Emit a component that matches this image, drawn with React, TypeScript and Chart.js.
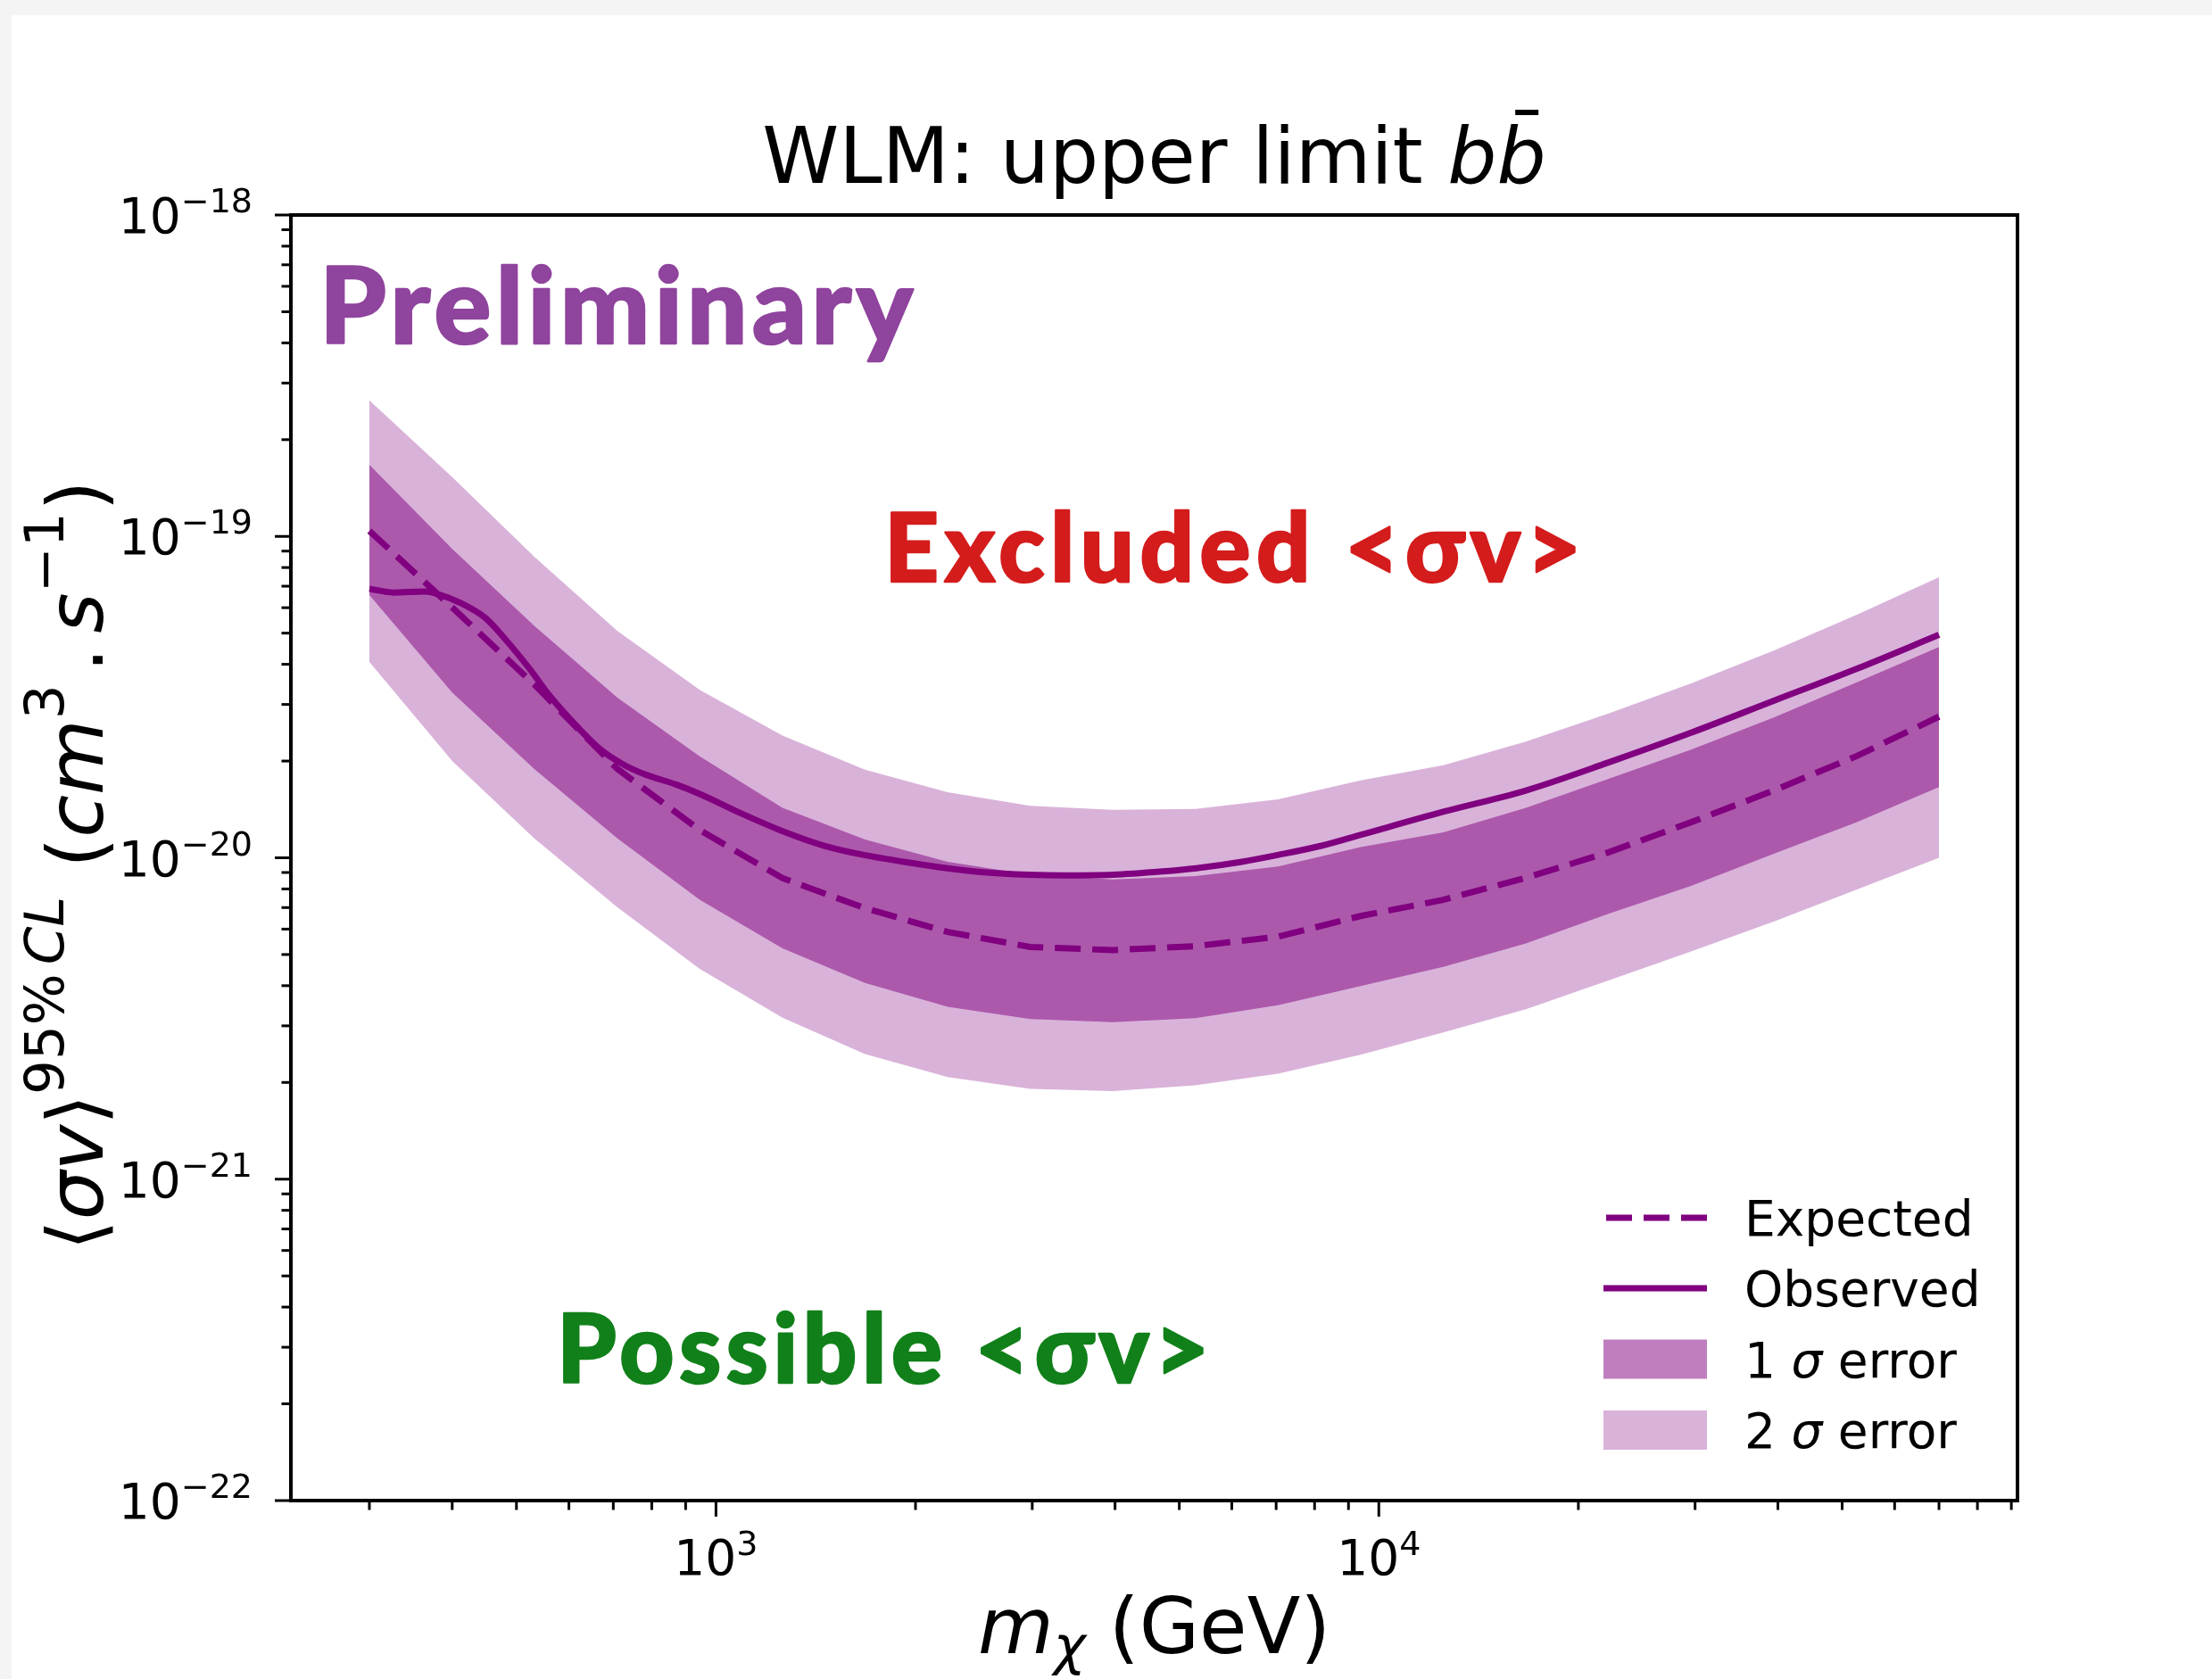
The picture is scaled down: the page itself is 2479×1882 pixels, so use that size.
import React, { useEffect, useRef } from 'react';
import { Chart, registerables } from 'chart.js';

Chart.register(...registerables);

// ---- data ----
const massGrid = [300, 400, 532, 710, 945, 1260, 1678, 2236, 2979, 3968, 5288, 7046, 9388, 12510, 16670, 22210, 29590, 39430, 52540, 70000];
const expectedLimit = [1.04e-19, 6.01e-20, 3.46e-20, 1.89e-20, 1.22e-20, 8.64e-21, 6.97e-21, 5.88e-21, 5.28e-21, 5.16e-21, 5.31e-21, 5.68e-21, 6.59e-21, 7.40e-21, 8.67e-21, 1.04e-20, 1.29e-20, 1.62e-20, 2.07e-20, 2.75e-20];
const sigma1Upper = [1.67e-19, 9.14e-20, 5.27e-20, 3.15e-20, 2.07e-20, 1.43e-20, 1.14e-20, 9.71e-21, 8.86e-21, 8.57e-21, 8.77e-21, 9.39e-21, 1.08e-20, 1.20e-20, 1.43e-20, 1.76e-20, 2.17e-20, 2.73e-20, 3.51e-20, 4.53e-20];
const sigma1Lower = [6.57e-20, 3.27e-20, 1.89e-20, 1.15e-20, 7.40e-21, 5.23e-21, 4.08e-21, 3.44e-21, 3.15e-21, 3.08e-21, 3.17e-21, 3.48e-21, 3.99e-21, 4.58e-21, 5.41e-21, 6.70e-21, 8.18e-21, 1.03e-20, 1.29e-20, 1.66e-20];
const sigma2Upper = [2.65e-19, 1.53e-19, 8.65e-20, 5.08e-20, 3.33e-20, 2.40e-20, 1.88e-20, 1.60e-20, 1.45e-20, 1.41e-20, 1.42e-20, 1.52e-20, 1.74e-20, 1.94e-20, 2.30e-20, 2.81e-20, 3.49e-20, 4.41e-20, 5.70e-20, 7.47e-20];
const sigma2Lower = [4.07e-20, 2.00e-20, 1.15e-20, 7.01e-21, 4.51e-21, 3.18e-21, 2.45e-21, 2.08e-21, 1.91e-21, 1.88e-21, 1.96e-21, 2.13e-21, 2.44e-21, 2.86e-21, 3.38e-21, 4.15e-21, 5.11e-21, 6.33e-21, 7.96e-21, 1.00e-20];

const observedMass = [300, 326, 364, 380, 411, 449, 480, 524, 560, 615, 668, 722, 780, 871, 952, 1087, 1261, 1457, 1673, 1920, 2235, 2532, 2968, 3337, 3966, 4714, 5302, 6215, 7039, 8195, 9406, 12510, 16670, 22210, 29590, 39430, 52540, 70000];
const observedLimit = [6.87e-20, 6.69e-20, 6.74e-20, 6.62e-20, 6.22e-20, 5.57e-20, 4.81e-20, 3.86e-20, 3.21e-20, 2.58e-20, 2.18e-20, 1.96e-20, 1.82e-20, 1.69e-20, 1.57e-20, 1.38e-20, 1.21e-20, 1.09e-20, 1.02e-20, 9.72e-21, 9.28e-21, 9.02e-21, 8.86e-21, 8.82e-21, 8.86e-21, 9.07e-21, 9.28e-21, 9.72e-21, 1.02e-20, 1.09e-20, 1.18e-20, 1.39e-20, 1.62e-20, 1.98e-20, 2.45e-20, 3.08e-20, 3.87e-20, 4.94e-20];

const yTickExponents = [-22, -21, -20, -19, -18];
const xTickExponents = [3, 4];
const minorMultipliers = [2, 3, 4, 5, 6, 7, 8, 9];
const legendLabels = ['Expected', 'Observed', '1 σ error', '2 σ error'];

const X_MIN = 228.4;
const X_MAX = 91940;
const Y_MIN = 1e-22;
const Y_MAX = 1e-18;

const PURPLE = '#800080';
const FILL1 = 'rgba(128,0,128,0.5)';
const FILL2 = 'rgba(128,0,128,0.3)';
const DJ = "'DejaVu Sans'";
const LINE_W = 7;
const DASH = [29, 13];

type Part = { t: string; f: string; dy?: number; gap?: number };

function partsWidth(ctx: CanvasRenderingContext2D, parts: Part[]) {
  let w = 0;
  for (const p of parts) {
    ctx.font = p.f;
    w += ctx.measureText(p.t).width + (p.gap || 0);
  }
  return w;
}

function drawParts(ctx: CanvasRenderingContext2D, parts: Part[], x: number, y: number, align: 'left' | 'center' | 'right') {
  const total = partsWidth(ctx, parts);
  let cx = align === 'center' ? x - total / 2 : align === 'right' ? x - total : x;
  const pos: number[] = [];
  ctx.textAlign = 'left';
  ctx.textBaseline = 'alphabetic';
  for (const p of parts) {
    ctx.font = p.f;
    pos.push(cx);
    ctx.fillText(p.t, cx, y + (p.dy || 0));
    cx += ctx.measureText(p.t).width + (p.gap || 0);
  }
  return pos;
}

function seg(ctx: CanvasRenderingContext2D, x0: number, y0: number, x1: number, y1: number) {
  ctx.beginPath();
  ctx.moveTo(x0, y0);
  ctx.lineTo(x1, y1);
  ctx.stroke();
}

// heavy annotation text; letter spacing fitted to the ink extent seen in the reference
function heavyText(ctx: CanvasRenderingContext2D, text: string, size: number, color: string, inkLeft: number, inkRight: number, baseline: number) {
  ctx.save();
  ctx.font = `900 ${size}px Lato`;
  ctx.textAlign = 'left';
  ctx.textBaseline = 'alphabetic';
  const sw = 2.5;
  const c: any = ctx;
  c.letterSpacing = '0px';
  const m = ctx.measureText(text);
  const inkW = m.actualBoundingBoxLeft + m.actualBoundingBoxRight + sw;
  const n = Array.from(text).length;
  const ls = ((inkRight - inkLeft) - inkW) / (n - 1);
  c.letterSpacing = `${ls}px`;
  ctx.fillStyle = color;
  ctx.strokeStyle = color;
  ctx.lineWidth = sw;
  ctx.lineJoin = 'round';
  const x0 = inkLeft + m.actualBoundingBoxLeft + sw / 2;
  ctx.fillText(text, x0, baseline - sw / 2);
  ctx.strokeText(text, x0, baseline - sw / 2);
  ctx.restore();
}

const decorPlugin = {
  id: 'decor',
  afterDatasetsDraw(chart: any) {
    const ctx: CanvasRenderingContext2D = chart.ctx;
    const xs = chart.scales.x;
    const ys = chart.scales.y;
    const ca = chart.chartArea;
    ctx.save();
    ctx.fillStyle = '#000';
    ctx.strokeStyle = '#000';

    // frame
    ctx.lineWidth = 4;
    ctx.strokeRect(ca.left, ca.top, ca.right - ca.left, ca.bottom - ca.top);

    // y ticks
    ctx.lineWidth = 3;
    const base = `55px ${DJ}`;
    const sup = `38px ${DJ}`;
    for (const e of yTickExponents) {
      const py = ys.getPixelForValue(Math.pow(10, e));
      seg(ctx, ca.left - 18, py, ca.left, py);
      drawParts(ctx, [
        { t: '10', f: base },
        { t: '−' + String(Math.abs(e)), f: sup, dy: -23 },
      ], ca.left - 43, py + 20, 'right');
      if (e < -18) {
        for (const m of minorMultipliers) {
          const v = m * Math.pow(10, e);
          const pm = ys.getPixelForValue(v);
          seg(ctx, ca.left - 10.5, pm, ca.left, pm);
        }
      }
    }

    // x ticks
    for (let e = 2; e <= 4; e++) {
      for (const m of minorMultipliers) {
        const v = m * Math.pow(10, e);
        if (v < X_MIN || v > X_MAX) continue;
        const px = xs.getPixelForValue(v);
        seg(ctx, px, ca.bottom, px, ca.bottom + 10.5);
      }
    }
    for (const e of xTickExponents) {
      const px = xs.getPixelForValue(Math.pow(10, e));
      seg(ctx, px, ca.bottom, px, ca.bottom + 18);
      drawParts(ctx, [
        { t: '10', f: base },
        { t: String(e), f: sup, dy: -22 },
      ], px, ca.bottom + 83, 'center');
    }

    // title
    const big = `87px ${DJ}`;
    const bigI = `italic 87px ${DJ}`;
    const tpos = drawParts(ctx, [
      { t: 'WLM: upper limit ', f: big },
      { t: 'b', f: bigI },
      { t: 'b', f: bigI },
    ], (ca.left + ca.right) / 2, 205, 'center');
    ctx.font = bigI;
    const bw = ctx.measureText('b').width;
    const bx = tpos[2] + bw / 2 + 6;
    ctx.fillRect(bx - 13, 123, 26, 6);

    // x label
    drawParts(ctx, [
      { t: 'm', f: bigI },
      { t: 'χ', f: `italic 61px ${DJ}`, dy: 12, gap: 26 },
      { t: '(GeV)', f: big },
    ], (ca.left + ca.right) / 2, 1853, 'center');

    // y label (rotated)
    ctx.save();
    ctx.translate(115, 970);
    ctx.rotate(-Math.PI / 2);
    const supY = `61px ${DJ}`;
    const supYI = `italic 61px ${DJ}`;
    drawParts(ctx, [
      { t: '⟨', f: big },
      { t: 'σv', f: bigI },
      { t: '⟩', f: big },
      { t: '95%', f: supY, dy: -44, gap: 10 },
      { t: 'CL', f: supYI, dy: -44, gap: 32 },
      { t: '(', f: big },
      { t: 'cm', f: bigI },
      { t: '3', f: supY, dy: -44, gap: 14 },
      { t: '.', f: big, gap: 16 },
      { t: 's', f: bigI },
      { t: '−1', f: supY, dy: -44, gap: 2 },
      { t: ')', f: big },
    ], 0, 0, 'center');
    ctx.restore();

    // annotations
    heavyText(ctx, 'Preliminary', 119, '#8f449d', 366, 1025, 386);
    heavyText(ctx, 'Excluded <σv>', 106, '#d41c1c', 998, 1766, 653);
    heavyText(ctx, 'Possible <σv>', 106, '#11801a', 631, 1349, 1551);

    // legend
    const rows = [1365, 1444, 1523.5, 1603];
    const lx0 = 1797;
    const lx1 = 1913;
    const tx = 1955;
    ctx.strokeStyle = PURPLE;
    ctx.lineWidth = LINE_W;
    ctx.setLineDash(DASH);
    seg(ctx, lx0 + 3, rows[0], lx1, rows[0]);
    ctx.setLineDash([]);
    seg(ctx, lx0, rows[1], lx1, rows[1]);
    ctx.fillStyle = FILL1;
    ctx.fillRect(lx0, rows[2] - 22, lx1 - lx0, 44);
    ctx.fillStyle = FILL2;
    ctx.fillRect(lx0, rows[3] - 22, lx1 - lx0, 44);
    ctx.fillStyle = '#000';
    legendLabels.forEach((lab, i) => {
      const ty = rows[i] + 20;
      if (lab.includes('σ')) {
        const [a, b] = lab.split('σ');
        drawParts(ctx, [
          { t: a, f: base },
          { t: 'σ', f: `italic 55px ${DJ}` },
          { t: b, f: base },
        ], tx, ty, 'left');
      } else {
        ctx.font = base;
        ctx.fillText(lab, tx, ty);
      }
    });

    ctx.restore();
  },
};

export default function App() {
  const ref = useRef<HTMLCanvasElement | null>(null);

  useEffect(() => {
    if (!ref.current) return;
    const pts = (xs: number[], ys: number[]) => xs.map((x, i) => ({ x, y: ys[i] }));
    const band = (data: number[], fill: any, color: string) => ({
      data: pts(massGrid, data),
      borderColor: 'rgba(0,0,0,0)',
      borderWidth: 1,
      backgroundColor: color,
      fill,
      pointRadius: 0,
      tension: 0,
    });
    const chart = new Chart(ref.current, {
      type: 'line',
      data: {
        datasets: [
          {
            label: 'Observed',
            data: pts(observedMass, observedLimit),
            borderColor: PURPLE,
            borderWidth: LINE_W,
            pointRadius: 0,
            fill: false,
            cubicInterpolationMode: 'monotone',
          } as any,
          {
            label: 'Expected',
            data: pts(massGrid, expectedLimit),
            borderColor: PURPLE,
            borderWidth: LINE_W,
            borderDash: DASH,
            pointRadius: 0,
            fill: false,
            tension: 0,
          },
          band(sigma1Upper, '+1', FILL1),
          band(sigma1Lower, false, 'rgba(0,0,0,0)'),
          band(sigma2Upper, '+1', FILL2),
          band(sigma2Lower, false, 'rgba(0,0,0,0)'),
        ],
      },
      options: {
        responsive: false,
        devicePixelRatio: 1,
        animation: false,
        events: [],
        layout: { padding: { left: 326, top: 241, right: 2479 - 2261, bottom: 1882 - 1682 } },
        scales: {
          x: { type: 'logarithmic', min: X_MIN, max: X_MAX, display: false },
          y: { type: 'logarithmic', min: Y_MIN, max: Y_MAX, display: false },
        },
        plugins: {
          legend: { display: false },
          title: { display: false },
          tooltip: { enabled: false },
        },
      },
      plugins: [decorPlugin],
    });
    return () => chart.destroy();
  }, []);

  return (
    <div style={{ position: 'absolute', left: 0, top: 0, width: 2479, height: 1882, background: '#f4f4f4', overflow: 'hidden' }}>
      <div style={{ position: 'absolute', left: 13, top: 17, right: 0, bottom: 0, background: '#ffffff' }} />
      <canvas ref={ref} width={2479} height={1882} style={{ position: 'absolute', left: 0, top: 0, width: 2479, height: 1882 }} />
    </div>
  );
}
